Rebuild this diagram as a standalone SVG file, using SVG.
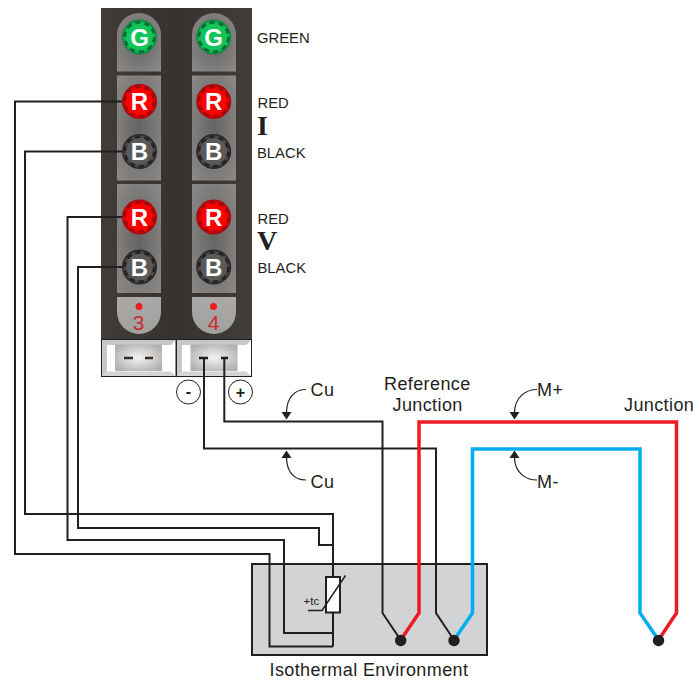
<svg xmlns="http://www.w3.org/2000/svg" width="693" height="681" viewBox="0 0 693 681">
<style>
text{font-family:"Liberation Sans",Arial,sans-serif;fill:#231f20}
.lbl{font-size:14.8px}
.big{font-size:18px;letter-spacing:.4px}
.roman{font-family:"Liberation Serif","Times New Roman",serif;font-size:28px;font-weight:bold}
.ltr{font-size:24px;font-weight:bold;fill:#fff;text-anchor:middle}
.num{font-size:21px;fill:#cf2a2e;text-anchor:middle}
.w{fill:none;stroke:#231f20;stroke-width:2;stroke-linejoin:miter}
.tile{fill:url(#tileG)}
.call{fill:none;stroke:#231f20;stroke-width:1.2}
.ah{fill:#231f20}
</style>
<defs>
<linearGradient id="panelG" x1="0" x2="1" y1="0" y2="0"><stop offset="0" stop-color="#3f3c3a"/><stop offset="0.5" stop-color="#353230"/><stop offset="1" stop-color="#403d3b"/></linearGradient>
<radialGradient id="tileG" cx="0.5" cy="0.5" r="0.75"><stop offset="0" stop-color="#666463"/><stop offset="1" stop-color="#8f8d8b"/></radialGradient>
<linearGradient id="numG" x1="0" x2="0" y1="0" y2="1"><stop offset="0" stop-color="#aaa9a7"/><stop offset="1" stop-color="#a0a09e"/></linearGradient>
<radialGradient id="sockG" cx="0.5" cy="0.5" r="0.6"><stop offset="0" stop-color="#f4f4f4"/><stop offset="1" stop-color="#b0b0b0"/></radialGradient>
<g id="ledG"><circle r="17.500" fill="#0b8a45"/><circle r="16" fill="#10b850"/><circle r="14.500" fill="none" stroke="#0a6a35" stroke-width="3" stroke-dasharray="5 4.100"/><circle r="13.300" fill="#12c45a"/></g>
<g id="ledR"><circle r="17.500" fill="#a80a0e"/><circle r="16" fill="#e60000"/><circle r="14.500" fill="none" stroke="#9c0a0e" stroke-width="3" stroke-dasharray="5 4.100"/><circle r="13.300" fill="#f00"/></g>
<g id="ledB"><circle r="17.500" fill="#2a2828"/><circle r="16" fill="#4a4848"/><circle r="14.500" fill="none" stroke="#242222" stroke-width="3" stroke-dasharray="5 4.100"/><circle r="13.300" fill="#5a5a5a"/></g>
</defs>

<g id="panel">
<rect x="101" y="8" width="151" height="331" fill="url(#panelG)"/>
</g>

<g id="channel-3">
<path class="tile" d="M117 71.500V35a22 22 0 0 1 44 0V71.500Z"/>
<rect class="tile" x="117" y="75.500" width="44" height="105"/>
<rect class="tile" x="117" y="184" width="44" height="109"/>
<path d="M117 297H161V312a22 22 0 0 1-44 0Z" fill="url(#numG)"/>
<use href="#ledG" x="139.500" y="37"/><text class="ltr" x="139.500" y="45.500">G</text>
<use href="#ledR" x="139.500" y="101.500"/><text class="ltr" x="139.500" y="110">R</text>
<use href="#ledB" x="139.500" y="151.500"/><text class="ltr" x="139.500" y="160">B</text>
<use href="#ledR" x="139.500" y="217"/><text class="ltr" x="139.500" y="225.500">R</text>
<use href="#ledB" x="139.500" y="267"/><text class="ltr" x="139.500" y="275.500">B</text>
<circle cx="139" cy="306.500" r="3.500" fill="#ed1c24"/>
<text class="num" x="138.500" y="329.500">3</text>
</g>

<g id="channel-4">
<path class="tile" d="M192 71.500V35a22 22 0 0 1 44 0V71.500Z"/>
<rect class="tile" x="192" y="75.500" width="44" height="105"/>
<rect class="tile" x="192" y="184" width="44" height="109"/>
<path d="M192 297H236V312a22 22 0 0 1-44 0Z" fill="url(#numG)"/>
<use href="#ledG" x="213.700" y="37"/><text class="ltr" x="213.700" y="45.500">G</text>
<use href="#ledR" x="213.700" y="101.500"/><text class="ltr" x="213.700" y="110">R</text>
<use href="#ledB" x="213.700" y="151.500"/><text class="ltr" x="213.700" y="160">B</text>
<use href="#ledR" x="213.700" y="217"/><text class="ltr" x="213.700" y="225.500">R</text>
<use href="#ledB" x="213.700" y="267"/><text class="ltr" x="213.700" y="275.500">B</text>
<circle cx="213.500" cy="306.500" r="3.500" fill="#ed1c24"/>
<text class="num" x="213.500" y="329.500">4</text>
</g>

<g id="socket-3">
<rect x="101.500" y="339.500" width="74.500" height="37" fill="#fff" stroke="#231f20"/>
<path d="M102 340H175.500L171 345H107V371.500L102 376Z" fill="#c8c8c8"/>
<path d="M102 376L107 371.500H171L175.500 376Z" fill="#d4d4d4"/>
<rect x="115" y="344.500" width="47" height="26.500" fill="url(#sockG)"/>
<path d="M124 358H133M145 358H153" stroke="#3a2a20" stroke-width="2.500"/>
</g>

<g id="socket-4">
<rect x="176.500" y="339.500" width="75" height="37" fill="#fff" stroke="#231f20"/>
<path d="M177 340H251L246.500 345H182V371.500L177 376Z" fill="#c8c8c8"/>
<path d="M177 376L182 371.500H246.500L251 376Z" fill="#d4d4d4"/>
<rect x="190.500" y="344.500" width="47" height="26.500" fill="url(#sockG)"/>
<path d="M199 358H208M221 358H228" stroke="#231f20" stroke-width="2.500"/>
</g>

<g id="isothermal">
<rect x="252" y="564" width="235" height="91" fill="#d1d3d4" stroke="#231f20" stroke-width="2"/>
</g>

<g id="connectors">
<path class="w" d="M122 101.500H15V554H269.500V646.500H333"/>
<path class="w" d="M122 151.500H25V514H333V577"/>
<path class="w" d="M122 217H67.500V540H284V633H333"/>
<path class="w" d="M122 267H78V528H319V545H333"/>
<path class="w" d="M333 613V646.500"/>
<path class="w" d="M224.300 358V421.500H382.500V613L400.700 640"/>
<path class="w" d="M204 358V448.500H436V613L454 640"/>
<path fill="none" stroke="#ed1c24" stroke-width="3.500" d="M400.700 640L419 613V422H676.500V613L658.500 640"/>
<path fill="none" stroke="#00aeef" stroke-width="3.500" d="M454 640L472.500 613V449H640V613L658.500 640"/>
</g>

<g id="thermistor">
<rect x="326" y="577" width="14" height="35.500" fill="#fff" stroke="#231f20" stroke-width="2"/>
<path d="M308 610.500H322L345.500 575.500" fill="none" stroke="#231f20" stroke-width="1.500"/>
<text x="303.500" y="604.500" font-size="11.500">+tc</text>
</g>

<g id="junctions">
<circle cx="400.700" cy="640.500" r="5.700" fill="#231f20"/>
<circle cx="454" cy="640.500" r="5.700" fill="#231f20"/>
<circle cx="658.500" cy="640.500" r="5.700" fill="#231f20"/>
</g>

<g id="polarity">
<circle cx="188.500" cy="392" r="12" fill="#fff" stroke="#231f20" stroke-width="1"/>
<text x="188.500" y="397" font-size="16" font-weight="bold" text-anchor="middle">-</text>
<circle cx="240.500" cy="392" r="12" fill="#fff" stroke="#231f20" stroke-width="1"/>
<text x="240.500" y="398" font-size="16" font-weight="bold" text-anchor="middle">+</text>
</g>

<g id="callouts">
<path class="call" d="M306 389.500C295 389.500 287 397 286.500 412"/>
<path class="ah" d="M281.500 412H291.500L286.500 419.500Z"/>
<path class="call" d="M306 480C295 480 287 473 286.500 458"/>
<path class="ah" d="M281.500 458H291.500L286.500 450.500Z"/>
<path class="call" d="M537 389.500C526 389.500 515 397 514.500 412"/>
<path class="ah" d="M509.500 412H519.500L514.500 419.500Z"/>
<path class="call" d="M537 480C526 480 515 473 514.500 458"/>
<path class="ah" d="M509.500 458H519.500L514.500 450.500Z"/>
<text class="big" x="310.500" y="396">Cu</text>
<text class="big" x="310.500" y="487.500">Cu</text>
<text class="big" x="537" y="396">M+</text>
<text class="big" x="537" y="487.500">M-</text>
<text class="big" x="384" y="389.500">Reference</text>
<text class="big" x="392.500" y="410.500">Junction</text>
<text class="big" x="624" y="410.500">Junction</text>
<text class="big" x="269.500" y="675.500">Isothermal Environment</text>
</g>

<g id="labels">
<text class="lbl" x="257" y="42.500">GREEN</text>
<text class="lbl" x="257.500" y="107.500">RED</text>
<text class="roman" x="257" y="134.500">I</text>
<text class="lbl" x="257" y="157.500">BLACK</text>
<text class="lbl" x="257.500" y="223.500">RED</text>
<text class="roman" x="257" y="250">V</text>
<text class="lbl" x="257.500" y="273">BLACK</text>
</g>
</svg>
